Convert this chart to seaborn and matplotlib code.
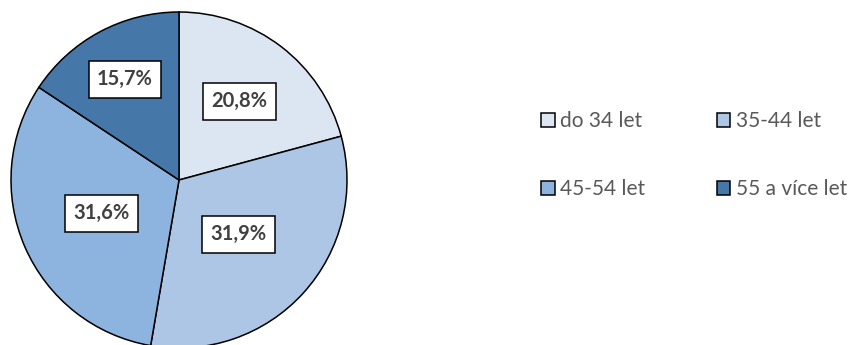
import matplotlib
matplotlib.use("Agg")
import matplotlib.pyplot as plt
import seaborn as sns
import numpy as np

categories = ["do 34 let", "35-44 let", "45-54 let", "55 a více let"]
shares = [20.8, 31.9, 31.6, 15.7]
value_labels = ["20,8%", "31,9%", "31,6%", "15,7%"]

colors = ["#DCE6F2", "#ADC6E6", "#8DB3DF", "#4677A9"]
label_dist = [0.59, 0.48, 0.50, 0.68]

sns.set_theme(style="white")
plt.rcParams["font.family"] = ["Lato", "DejaVu Sans"]

W, H = 863, 345
fig = plt.figure(figsize=(W / 100, H / 100), dpi=100)
cx, cy, R = 179, 180, 168
half = 170
ax = fig.add_axes([(cx - half) / W, (H - cy - half) / H, 2 * half / W, 2 * half / H])

wedges, texts = ax.pie(
    shares,
    colors=colors,
    startangle=90,
    counterclock=False,
    radius=R / half,
    labels=value_labels,
    labeldistance=0.55,
    wedgeprops=dict(edgecolor="black", linewidth=1.1),
    textprops=dict(fontsize=14.5, fontweight="bold", color="#404040"),
)
for w, t, d in zip(wedges, texts, label_dist):
    ang = np.deg2rad((w.theta1 + w.theta2) / 2)
    r = w.r * d
    t.set_position((r * np.cos(ang), r * np.sin(ang)))
    t.set_ha("center")
    t.set_va("center")
    t.set_bbox(dict(boxstyle="square,pad=0.42", fc="white", ec="black", lw=1.1))
ax.set_xlim(-1, 1)
ax.set_ylim(-1, 1)
ax.set_aspect("equal")
ax.axis("off")

order = [0, 2, 1, 3]  # row-major legend layout in two columns
leg = fig.legend(
    [wedges[i] for i in order], [categories[i] for i in order],
    ncol=2,
    loc="upper left",
    bbox_to_anchor=(541 / W, 1 - 111 / H),
    frameon=False,
    fontsize=15,
    handlelength=0.65,
    handleheight=0.65,
    handletextpad=0.25,
    columnspacing=3.45,
    labelspacing=2.3,
    borderpad=0,
    borderaxespad=0,
)
for t in leg.get_texts():
    t.set_color("#595959")

fig.savefig("out.png", dpi=100)
